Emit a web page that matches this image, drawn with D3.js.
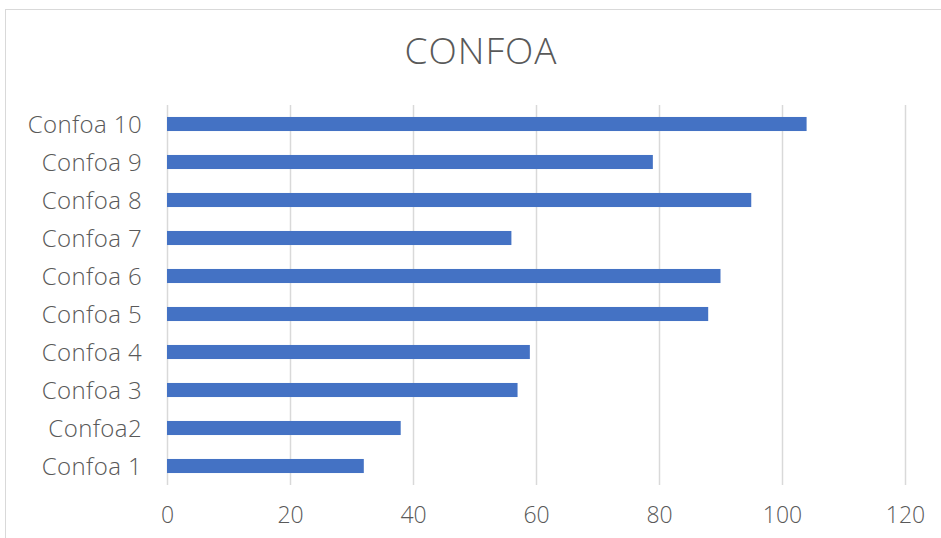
<!DOCTYPE html>
<html><head><meta charset="utf-8">
<script src="https://cdn.jsdelivr.net/npm/d3@7"></script>
<style>
html,body{margin:0;padding:0;background:#fff;}
svg{display:block;font-family:"Open Sans","Noto Sans",sans-serif;}
</style></head>
<body>
<svg id="chart" width="941" height="538"></svg>
<script>
const title = "CONFOA";
const categories = ["Confoa 1","Confoa2","Confoa 3","Confoa 4","Confoa 5","Confoa 6","Confoa 7","Confoa 8","Confoa 9","Confoa 10"];
const values = [32,38,57,59,88,90,56,95,79,104];
const xTicks = [0,20,40,60,80,100,120];

const svg = d3.select("#chart");
const W = 941, H = 538;
const m = {left:167, right:36, top:105, bottom:53};

svg.append("rect").attr("x",5.5).attr("y",9.5).attr("width",W+10).attr("height",H+10)
  .attr("fill","#fff").attr("stroke","#d9d9d9").attr("stroke-width",1);

const x = d3.scaleLinear().domain([0,120]).range([m.left, W-m.right]);
const y = d3.scaleBand().domain(categories.slice().reverse()).range([m.top, H-m.bottom]).paddingInner(0.63).paddingOuter(0.315);

svg.append("text").attr("x",481).attr("y",64).attr("text-anchor","middle")
  .attr("font-size",37).attr("font-weight",300).attr("letter-spacing",1).attr("fill","#595959").text(title);

const xAxis = svg.append("g").attr("transform",`translate(0,${H-m.bottom})`)
  .call(d3.axisBottom(x).tickValues(xTicks).tickSize(H-m.bottom-m.top).tickPadding(0).tickFormat(d3.format("d")));
xAxis.select(".domain").remove();
xAxis.selectAll(".tick line").attr("stroke","#d9d9d9").attr("stroke-width",1.5).attr("transform",`translate(0,${-(H-m.bottom-m.top)})`);
xAxis.selectAll(".tick text").attr("y",38).attr("dy",0).attr("font-size",23).attr("fill","#595959").attr("font-family","'Open Sans',sans-serif").attr("font-weight",300);

svg.append("g").selectAll("rect").data(categories).join("rect")
  .attr("x",x(0)).attr("y",d=>y(d)).attr("height",y.bandwidth())
  .attr("width",(d,i)=>x(values[i])-x(0)).attr("fill","#4472c4");

const yAxis = svg.append("g").attr("transform",`translate(${m.left},0)`)
  .call(d3.axisLeft(y).tickSize(0).tickPadding(25));
yAxis.select(".domain").remove();
yAxis.selectAll(".tick text").attr("font-size",24).attr("letter-spacing",0.4).attr("fill","#595959").attr("font-family","'Open Sans',sans-serif").attr("font-weight",300).attr("dy","0.36em");
</script>
</body></html>
